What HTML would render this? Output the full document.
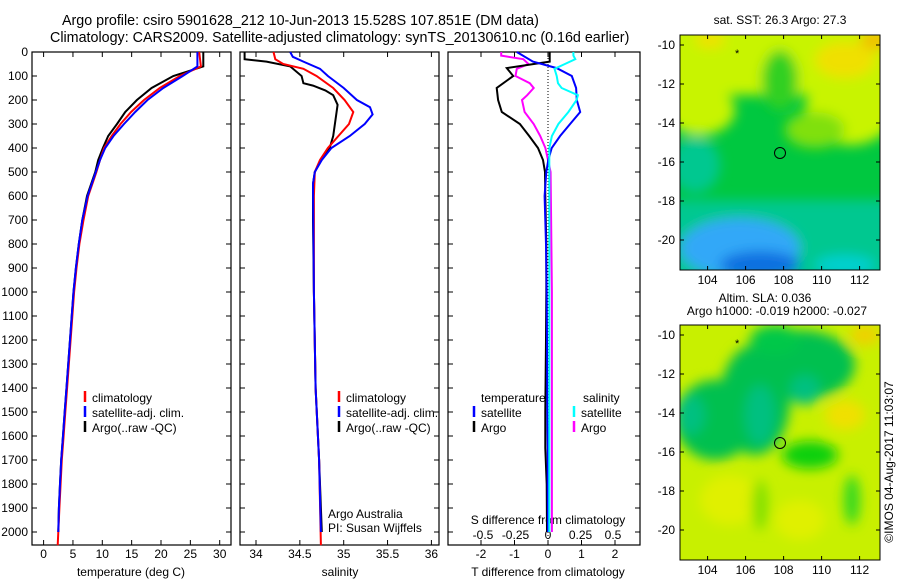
<!DOCTYPE html>
<html><head><meta charset="utf-8"><style>
html,body{margin:0;padding:0;background:#fff;}
svg{display:block;font-family:"Liberation Sans",sans-serif;}
text{fill:#000;}
</style></head><body>
<svg id="fig" width="900" height="580" viewBox="0 0 900 580">
<defs>
<filter id="bl" x="-50%" y="-50%" width="200%" height="200%"><feGaussianBlur stdDeviation="6"/></filter>
<clipPath id="c1"><rect x="680" y="35" width="200" height="235"/></clipPath>
<clipPath id="c2"><rect x="680" y="325" width="200" height="235"/></clipPath>
</defs>
<text x="62" y="25" font-size="14.3">Argo profile: csiro 5901628_212 10-Jun-2013 15.528S 107.851E (DM data)</text>
<text x="50" y="42" font-size="14.3">Climatology: CARS2009. Satellite-adjusted climatology: synTS_20130610.nc (0.16d earlier)</text>

<!-- SST map -->
<g clip-path="url(#c1)">
<rect x="680" y="35" width="200" height="235" fill="#00c840"/>
<g filter="url(#bl)">
<rect x="640" y="0" width="280" height="95" fill="#c8f400"/>
<ellipse cx="700" cy="110" rx="35" ry="25" fill="#c8f400"/>
<ellipse cx="850" cy="110" rx="45" ry="35" fill="#c8f400"/>
<ellipse cx="780" cy="80" rx="18" ry="30" fill="#30d020"/>
<ellipse cx="815" cy="130" rx="30" ry="18" fill="#80e010"/>
<ellipse cx="845" cy="60" rx="30" ry="18" fill="#f0e000"/>
<ellipse cx="875" cy="40" rx="15" ry="10" fill="#f0c000"/>
<ellipse cx="710" cy="40" rx="15" ry="8" fill="#f0e000"/>
<ellipse cx="695" cy="165" rx="25" ry="28" fill="#00c890"/>
<rect x="640" y="200" width="280" height="100" fill="#00c890"/>
<ellipse cx="740" cy="248" rx="60" ry="30" fill="#30a8f8"/>
<ellipse cx="760" cy="265" rx="40" ry="14" fill="#1070e0"/>
<ellipse cx="845" cy="265" rx="30" ry="10" fill="#00d0d0"/>
</g>
</g>
<rect x="680" y="35" width="200" height="235" fill="none" stroke="#000"/>
<circle cx="780" cy="153" r="5.5" fill="none" stroke="#000"/>
<text x="735" y="57" font-size="11">*</text>
<text x="780" y="24" font-size="12" text-anchor="middle">sat. SST: 26.3 Argo: 27.3</text>

<!-- SLA map -->
<g clip-path="url(#c2)">
<rect x="680" y="325" width="200" height="235" fill="#c8f000"/>
<g filter="url(#bl)">
<ellipse cx="715" cy="420" rx="40" ry="40" fill="#00c050"/>
<ellipse cx="755" cy="400" rx="35" ry="55" fill="#00c050"/>
<ellipse cx="800" cy="365" rx="55" ry="35" fill="#00c050"/>
<ellipse cx="775" cy="340" rx="25" ry="15" fill="#00c848"/>
<ellipse cx="690" cy="415" rx="15" ry="20" fill="#00c080"/>
<ellipse cx="760" cy="415" rx="15" ry="30" fill="#00c080"/>
<ellipse cx="805" cy="390" rx="15" ry="15" fill="#00c080"/>
<ellipse cx="810" cy="455" rx="28" ry="14" fill="#10d010"/>
<ellipse cx="852" cy="500" rx="8" ry="25" fill="#30d820"/>
<ellipse cx="845" cy="415" rx="20" ry="15" fill="#f0e000"/>
<ellipse cx="865" cy="335" rx="15" ry="10" fill="#f0d000"/>
<ellipse cx="730" cy="500" rx="30" ry="25" fill="#e0f000"/>
<ellipse cx="800" cy="520" rx="25" ry="20" fill="#e0f000"/>
<ellipse cx="760" cy="505" rx="8" ry="25" fill="#80e000"/>
</g>
</g>
<rect x="680" y="325" width="200" height="235" fill="none" stroke="#000"/>
<circle cx="780" cy="443" r="5.5" fill="none" stroke="#000"/>
<text x="735" y="347" font-size="11">*</text>
<text x="765" y="302" font-size="12" text-anchor="middle">Altim. SLA: 0.036</text>
<text x="777" y="315" font-size="12" text-anchor="middle">Argo h1000: -0.019 h2000: -0.027</text>
<text transform="translate(893,462) rotate(-90)" font-size="12" text-anchor="middle">©IMOS 04-Aug-2017 11:03:07</text>
<g id="mapticks"></g>

<g id="panels"></g>
</svg>
<script>
// ---- data ----
const tDepth   = [0, 60, 100, 150, 200, 250, 300, 350, 400, 450, 500, 600, 700, 800, 900, 1000, 1200, 1400, 1500, 1600, 1700, 1800, 1900, 2000];
const tArgo    = [27.2, 27.2, 22.1, 18.4, 15.9, 13.9, 12.5, 11.0, 10.1, 9.3, 8.8, 7.4, 6.6, 6.0, 5.5, 5.1, 4.5, 3.9, 3.6, 3.3, 3.0, 2.8, 2.6, 2.5];
const tClimDepth = [0, 60, 100, 150, 200, 250, 300, 350, 400, 450, 500, 600, 700, 800, 900, 1000, 1200, 1400, 1500, 1600, 1700, 1800, 1900, 2000, 2055];
const tClim    = [26.5, 26.8, 23.2, 19.8, 17.1, 14.9, 13.1, 11.6, 10.3, 9.6, 9.0, 7.6, 6.8, 6.1, 5.6, 5.2, 4.6, 4.0, 3.7, 3.4, 3.1, 2.9, 2.7, 2.5, 2.4];
const tSat     = [26.2, 26.2, 23.7, 20.4, 17.7, 15.6, 13.7, 11.9, 10.5, 9.6, 8.9, 7.5, 6.6, 6.0, 5.5, 5.1, 4.5, 3.9, 3.6, 3.3, 3.0, 2.8, 2.6, 2.5];
const sArgoDepth = [0, 30, 40, 60, 100, 130, 140, 160, 180, 220, 300, 350, 400, 450, 500, 550, 700, 1000, 1400, 1700, 2000];
const sArgo    = [33.87, 33.87, 34.12, 34.39, 34.52, 34.54, 34.65, 34.79, 34.88, 34.93, 34.90, 34.88, 34.84, 34.74, 34.67, 34.65, 34.65, 34.66, 34.68, 34.72, 34.75];
const sClimDepth = [0, 30, 50, 70, 100, 150, 200, 250, 300, 350, 400, 450, 500, 600, 1000, 1400, 1700, 2055];
const sClim    = [34.20, 34.22, 34.31, 34.54, 34.69, 34.88, 35.01, 35.11, 35.06, 34.94, 34.82, 34.73, 34.67, 34.66, 34.66, 34.68, 34.72, 34.74];
const sSatDepth = [0, 20, 40, 70, 100, 150, 200, 230, 260, 300, 350, 400, 450, 500, 550, 1000, 1400, 1700, 2000];
const sSat     = [34.39, 34.42, 34.54, 34.73, 34.82, 35.00, 35.15, 35.30, 35.33, 35.24, 35.07, 34.86, 34.75, 34.67, 34.65, 34.66, 34.68, 34.72, 34.74];
const dDepth   = [0, 40, 67, 100, 150, 200, 250, 300, 350, 400, 450, 500, 600, 800, 1000, 1200, 1500, 1650, 1800, 2000];
const dTArgo   = [0.05, 0.05, -1.23, -1.04, -1.53, -1.49, -1.38, -0.84, -0.56, -0.30, -0.15, -0.09, -0.08, -0.05, -0.05, -0.06, -0.08, -0.08, -0.04, -0.03];
const dTSat    = [-0.93, -0.45, 0.26, 0.71, 0.84, 0.86, 0.96, 0.66, 0.36, 0.11, 0.01, -0.05, -0.1, -0.06, -0.04, -0.03, -0.02, -0.01, -0.01, 0.0];
const dSDepth  = [0, 15, 30, 50, 70, 100, 130, 150, 180, 200, 250, 300, 350, 400, 450, 500, 1000, 2000];
const dSArgo   = [-0.36, -0.36, -0.19, -0.15, -0.24, -0.25, -0.14, -0.11, -0.16, -0.20, -0.18, -0.11, -0.06, -0.02, 0.0, 0.02, 0.03, 0.03];
const dSSat    = [0.195, 0.195, 0.21, 0.13, 0.05, 0.067, 0.077, 0.105, 0.23, 0.22, 0.157, 0.08, 0.03, 0.01, 0.01, 0.01, 0.01, 0.01];
const depthTicks = [0,100,200,300,400,500,600,700,800,900,1000,1100,1200,1300,1400,1500,1600,1700,1800,1900,2000];
const tTicks = [0,5,10,15,20,25,30];
const sTicks = [34,34.5,35,35.5,36];
const sTickLabels = ["34","34.5","35","35.5","36"];
const dtTicks = [-2,-1,0,1,2];
const dsTicks = [-0.5,-0.25,0,0.25,0.5];
const lonTicks = [104,106,108,110,112];
const latTicks = [-10,-12,-14,-16,-18,-20];

// ---- scales ----
const NS='http://www.w3.org/2000/svg';
const Y0=52, Y1=545;
const yD = d => Y0 + d*0.24;
const xT = v => 43.6 + v*5.87;
const xS = v => 256 + (v-34)*87.7;
const xDT = v => 548 + v*33.5;
const xDS = v => 548 + v*130;
const xLon = v => 707.6 + (v-104)*19;
const yLat = v => 45 + (-10 - v)*19.5;
const g = document.getElementById('panels');
function el(tag, attrs, parent){ const e=document.createElementNS(NS,tag); for(const k in attrs) e.setAttribute(k,attrs[k]); (parent||g).appendChild(e); return e; }
function txt(x,y,s,anchor,parent,size){ const t=el('text',{x:x,y:y,'font-size':size||12,'text-anchor':anchor||'start'},parent); t.textContent=s; return t; }
function line(depths, vals, sx, color, name){
  let d='';
  for(let i=0;i<depths.length;i++){ d += (i?'L':'M') + sx(vals[i]).toFixed(1) + ' ' + yD(depths[i]).toFixed(1); }
  const p=el('path',{d:d,fill:'none',stroke:color,'stroke-width':2,'stroke-linejoin':'miter'});
  
  
}
function frame(x0,x1,name){
  const r=el('rect',{x:x0,y:Y0,width:x1-x0,height:Y1-Y0,fill:'none',stroke:'#000','stroke-width':1.2});
  
  
  depthTicks.forEach(d=>{ el('line',{x1:x0,x2:x0+5,y1:yD(d),y2:yD(d),stroke:'#000'}); el('line',{x1:x1,x2:x1-5,y1:yD(d),y2:yD(d),stroke:'#000'}); });
}
function xticks(ticks, sx, labels, y){
  ticks.forEach((v,i)=>{ const x=sx(v); el('line',{x1:x,x2:x,y1:Y0,y2:Y0+5,stroke:'#000'}); el('line',{x1:x,x2:x,y1:Y1,y2:Y1-5,stroke:'#000'});
    const t=txt(x,y,labels?labels[i]:String(v),'middle');
    
    
  });
}
function legendEntry(x,y,color,label){
  el('line',{x1:x,x2:x,y1:y-11,y2:y,stroke:color,'stroke-width':2.5});
  const t=txt(x+7,y,label,'start');
  
  
}

// panel 1 temperature
frame(32,231,'temperature-panel');
depthTicks.forEach(d=>{ const t=txt(28,yD(d)+4,String(d),'end');   });
xticks(tTicks,xT,null,558);
const tt=txt(131,576,'temperature (deg C)','middle');  
line(tDepth,tArgo,xT,'#000000','temp-argo-line');
line(tClimDepth,tClim,xT,'#ff0000','temp-climatology-line');
line(tDepth,tSat,xT,'#0000ff','temp-satellite-line');
legendEntry(85,402,'#ff0000','climatology');
legendEntry(85,417,'#0000ff','satellite-adj. clim.');
legendEntry(85,432,'#000000','Argo(..raw -QC)');

// panel 2 salinity
frame(240,439,'salinity-panel');
xticks(sTicks,xS,sTickLabels,558);
const st=txt(340,576,'salinity','middle');  
line(sArgoDepth,sArgo,xS,'#000000','sal-argo-line');
line(sClimDepth,sClim,xS,'#ff0000','sal-climatology-line');
line(sSatDepth,sSat,xS,'#0000ff','sal-satellite-line');
legendEntry(339,402,'#ff0000','climatology');
legendEntry(339,417,'#0000ff','satellite-adj. clim.');
legendEntry(339,432,'#000000','Argo(..raw -QC)');
const a1=txt(328,518,'Argo Australia','start');  
const a2=txt(328,532,'PI: Susan Wijffels','start');  

// panel 3 differences
frame(448,640,'difference-panel');
xticks(dtTicks,xDT,null,558);
dsTicks.forEach(v=>{ const t=txt(xDS(v),539,String(v),'middle');   });
const d1=txt(548,524,'S difference from climatology','middle');  
const d2=txt(548,576,'T difference from climatology','middle');  
el('line',{x1:548,x2:548,y1:Y0,y2:Y1,stroke:'#000','stroke-dasharray':'1,2'});
line(dSDepth,dSArgo,xDS,'#ff00ff','s-argo-diff-line');
line(dDepth,dTArgo,xDT,'#000000','t-argo-diff-line');
line(dDepth,dTSat,xDT,'#0000ff','t-satellite-diff-line');
line(dSDepth,dSSat,xDS,'#00ffff','s-satellite-diff-line');
const h1=txt(481,402,'temperature','start');  
const h2=txt(583,402,'salinity','start');  
legendEntry(474,417,'#0000ff','satellite');
legendEntry(474,432,'#000000','Argo');
legendEntry(574,417,'#00ffff','satellite');
legendEntry(574,432,'#ff00ff','Argo');

// map ticks
const mt=document.getElementById('mapticks');
[[35,270],[325,560]].forEach(([top,bot])=>{
  lonTicks.forEach(v=>{ const x=xLon(v); el('line',{x1:x,x2:x,y1:top,y2:top+4,stroke:'#000'},mt); el('line',{x1:x,x2:x,y1:bot,y2:bot-4,stroke:'#000'},mt);
    const t=txt(x,bot+14,String(v),'middle',mt);   });
  latTicks.forEach(v=>{ const y=yLat(v)+(top-35); el('line',{x1:680,x2:684,y1:y,y2:y,stroke:'#000'},mt); el('line',{x1:880,x2:876,y1:y,y2:y,stroke:'#000'},mt);
    const t=txt(675,y+4,String(v),'end',mt);   });
});
</script>
</body></html>
